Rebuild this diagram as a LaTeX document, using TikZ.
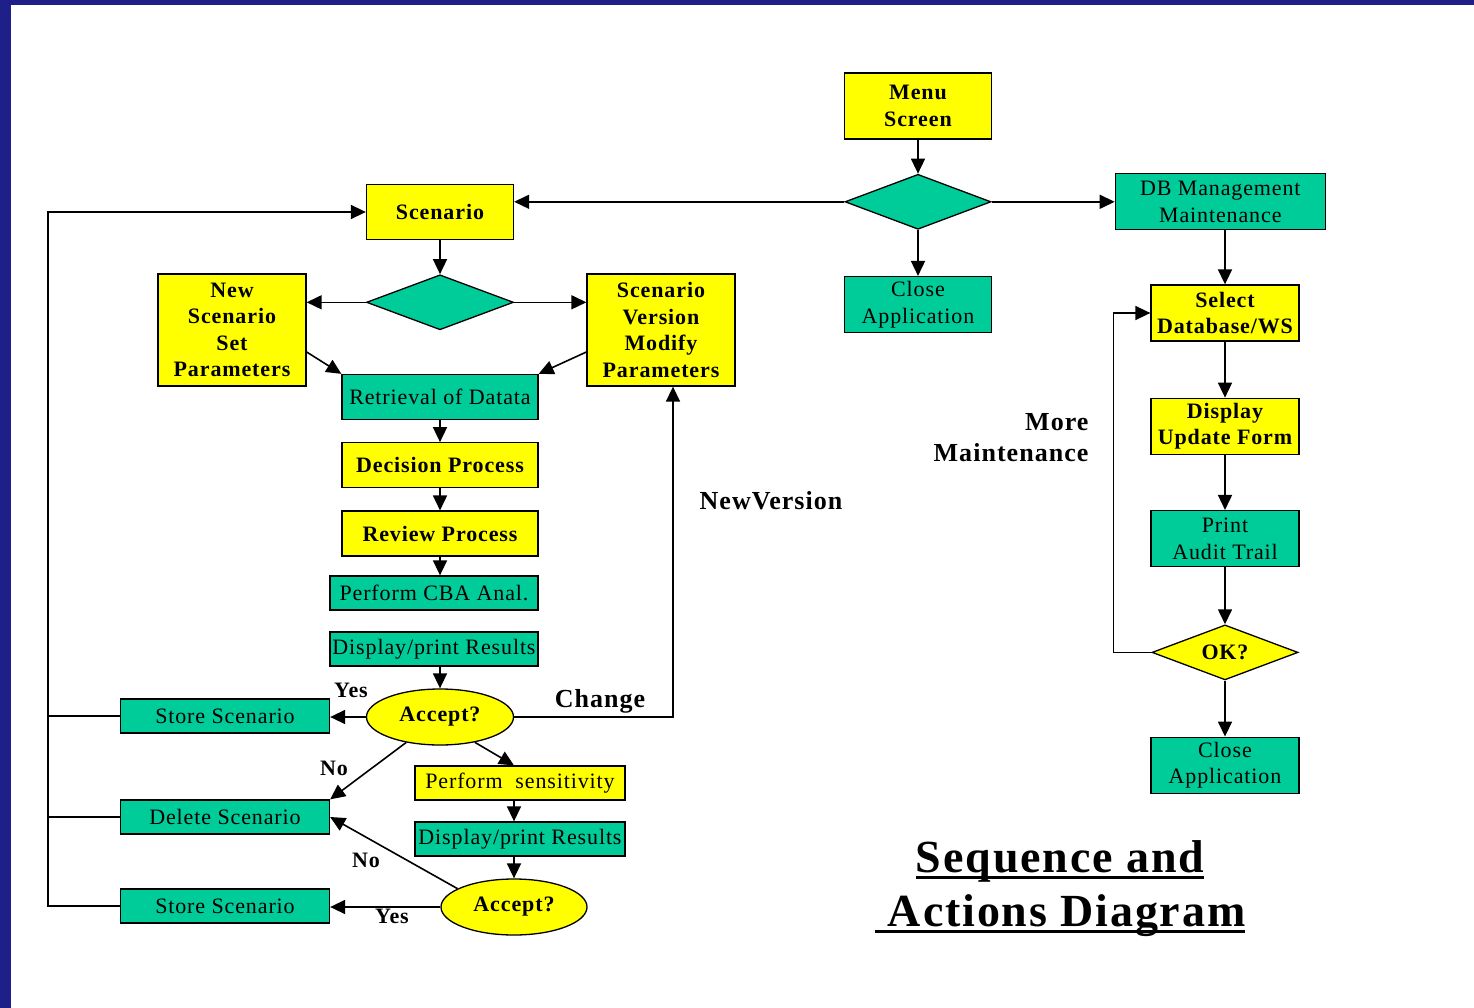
\documentclass[tikz,border=0pt]{standalone}
\usepackage{fontspec}
\setmainfont{Liberation Serif}[LetterSpace=4]
\usepackage{tikz}
\usetikzlibrary{shapes.geometric, arrows.meta, positioning, calc}

\definecolor{slideblue}{RGB}{31,31,138}
\definecolor{slidelight}{RGB}{52,52,200}
\definecolor{boxyellow}{RGB}{255,255,0}
\definecolor{boxgreen}{RGB}{0,204,153}

\newcommand{\bxfont}{\fontsize{22}{26.5}\selectfont}
\newcommand{\lbfont}{\fontsize{26}{31}\selectfont\bfseries}
\newcommand{\ynfont}{\fontsize{22}{26}\selectfont\bfseries}
\newcommand{\ttlfont}{\fontsize{46}{54}\selectfont\bfseries}
\newcommand{\thickul}[1]{\setbox0=\hbox{#1}\leavevmode\rlap{\rule[-6pt]{\wd0}{3pt}}\box0}

\begin{document}
\begin{tikzpicture}[
    x=1pt, y=-1pt,
    ybox/.style={draw, line width=1.3pt, fill=boxyellow, align=center, inner sep=0pt, font=\bxfont\bfseries},
    gbox/.style={draw, line width=1.3pt, fill=boxgreen, align=center, inner sep=0pt, font=\bxfont},
    gdiamond/.style={diamond, aspect=2.65, draw, line width=1.3pt, fill=boxgreen, inner sep=0pt, minimum width=146pt, minimum height=55pt},
    ydiamond/.style={gdiamond, fill=boxyellow, font=\bxfont\bfseries},
    yoval/.style={ellipse, draw, line width=1.3pt, fill=boxyellow, inner sep=0pt, minimum width=147pt, minimum height=56pt, font=\bxfont\bfseries},
    boxtall/.style={minimum width=148pt, minimum height=112pt},
    boxmid/.style={minimum width=148pt, minimum height=56pt},
    boxwide/.style={minimum width=196pt, minimum height=45pt},
    boxflat/.style={minimum width=209pt, minimum height=34pt},
    arrow/.style={-{Triangle[length=15pt, width=14pt]}, line width=1.6pt},
    link/.style={line width=1.6pt},
    lab/.style={font=\lbfont},
    yn/.style={font=\ynfont}
]

\useasboundingbox (0,0) rectangle (1474,1008);
\fill[slideblue] (0,0) rectangle (1474,1008);
\shade[top color=slideblue, middle color=slidelight, bottom color=slideblue] (0,0) rectangle (11,1008);
\fill[white] (11,5) rectangle (1474,1008);

% main menu
\node[ybox, minimum width=147pt, minimum height=66pt] (menu) at (918,106) {Menu\\Screen};
\node[gdiamond, below=34pt of menu] (menuq) {};
\node[gbox, minimum width=147pt, minimum height=56pt, below=46pt of menuq] (closetop) {Close\\Application};
\node[gbox, minimum width=210pt, minimum height=56pt, right=123pt of menuq] (dbman) {DB Management\\Maintenance};

% maintenance column
\node[ybox, boxmid] (selectdb) at (1225,313) {Select\\Database/WS};
\node[ybox, boxmid, below=56pt of selectdb] (updform) {Display\\Update Form};
\node[gbox, boxmid, below=55pt of updform] (audit) {Print\\Audit Trail};
\node[ydiamond, below=57pt of audit] (okq) {OK?};
\node[gbox, boxmid, below=56pt of okq] (closeright) {Close\\Application};

\draw[arrow] (menu) -- (menuq);
\draw[arrow] (menuq) -- (closetop);
\draw[arrow] (menuq.east) -- (dbman.west);
\draw[arrow] (dbman.south -| selectdb.north) -- (selectdb.north);
\draw[arrow] (selectdb) -- (updform);
\draw[arrow] (updform) -- (audit);
\draw[arrow] (audit) -- (okq);
\draw[arrow] (okq) -- (closeright);
\draw[arrow] (okq.west) -- ++(-38,0) |- (selectdb.west);

% scenario branch
\node[ybox, minimum width=147pt, minimum height=55pt] (scen) at (440,212) {Scenario};
\node[gdiamond, minimum width=147pt, below=34pt of scen] (scenq) {};
\node[ybox, boxtall] (newscen) at (232,330) {New\\Scenario\\Set\\Parameters};
\node[ybox, boxtall] (modscen) at (661,330) {Scenario\\Version\\Modify\\Parameters};
\node[gbox, boxwide] (retrieve) at (440,397) {Retrieval of Datata};
\node[ybox, boxwide, below=22pt of retrieve] (decide) {Decision Process};
\node[ybox, boxwide, below=22pt of decide] (review) {Review Process};
\node[gbox, boxflat, minimum width=208pt] (cba) at (434,593) {Perform CBA Anal.};
\node[gbox, boxflat, minimum width=208pt] (results) at (434,649) {Display/print Results};
\node[yoval] (accept) at (440,717) {Accept?};

\node[gbox, boxflat] (storeA) at (225,716) {Store Scenario};
\node[gbox, boxflat] (delscen) at (225,817) {Delete Scenario};
\node[gbox, boxflat] (storeB) at (225,906) {Store Scenario};

\node[ybox, boxflat, minimum width=210pt, font=\bxfont] (sens) at (520,783) {Perform~~sensitivity};
\node[gbox, boxflat, minimum width=210pt] (resultsB) at (520,839) {Display/print Results};
\node[yoval, minimum width=146pt] (acceptB) at (514,907) {Accept?};

\draw[arrow] (menuq.west) -- (menuq.west -| scen.east);
\draw[arrow] (scen) -- (scenq);
\draw[arrow] (scenq.west) -- (scenq.west -| newscen.east);
\draw[arrow] (scenq.east) -- (scenq.east -| modscen.west);
\draw[arrow] ([yshift=-22pt]newscen.east) -- (retrieve.north west);
\draw[arrow] ([yshift=-22pt]modscen.west) -- (retrieve.north east);
\draw[arrow] (retrieve) -- (decide);
\draw[arrow] (decide) -- (review);
\draw[arrow] (review.south) -- (review.south |- cba.north);
\draw[arrow] (results.south -| accept.north) -- (accept.north);
\draw[arrow] (accept.west) -- (accept.west -| storeA.east);
\draw[arrow] (accept.217) -- (delscen.north east);
\draw[arrow] (accept.324) -- (sens.north -| acceptB.north);
\draw[arrow] (accept.east) -| ([xshift=12pt]modscen.south);
\draw[arrow] (sens.south -| acceptB.north) -- (resultsB.north -| acceptB.north);
\draw[arrow] (resultsB.south -| acceptB.north) -- (acceptB.north);
\draw[arrow] (acceptB.162) -- (delscen.east);
\draw[arrow] (acceptB.west) -- (acceptB.west -| storeB.east);

% return line to scenario
\coordinate (bus) at (48,0);
\draw[arrow] (storeB.west) -- (storeB.west -| bus) |- (scen.west);
\draw[link] (storeA.west) -- (storeA.west -| bus);
\draw[link] (delscen.west) -- (delscen.west -| bus);

% labels
\node[yn] (yesA) at (351,690) {Yes};
\node[yn] (noA) at (334,768) {No};
\node[yn] (noB) at (366,860) {No};
\node[yn] (yesB) at (392,916) {Yes};
\node[lab] (change) at (600,701) {Change};
\node[lab] (newver) at (771,501) {NewVersion};
\node[lab, align=right, anchor=east] (moremaint) at (1092,438) {More\\Maintenance};

\node[font=\ttlfont, align=center] (title) at (1060,889) {\thickul{Sequence and}\\\thickul{\ Actions Diagram}};

\end{tikzpicture}
\end{document}
